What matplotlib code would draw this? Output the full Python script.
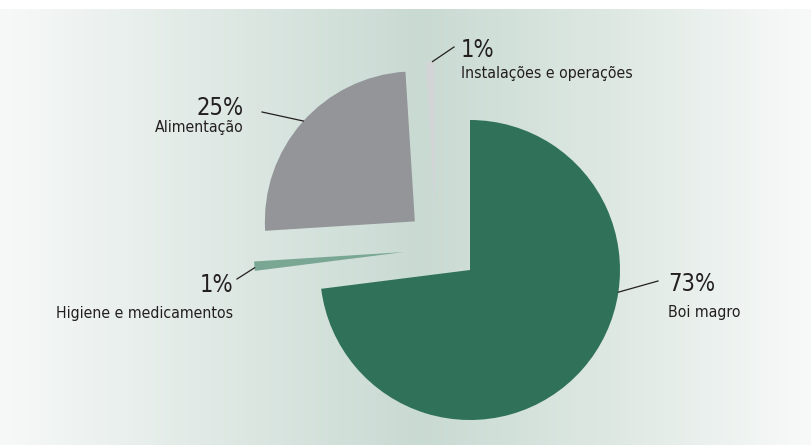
import matplotlib.pyplot as plt
import matplotlib.colors as mcolors
import numpy as np

plt.rcParams['font.family'] = ['DejaVu Sans']
plt.rcParams['font.stretch'] = 'condensed'

categories = ['Boi magro', 'Higiene e medicamentos', 'Alimentação', 'Instalações e operações']
shares = [73, 1, 25, 1]
pct_labels = ['73%', '1%', '25%', '1%']
colors = ['#2f7159', '#7aa794', '#939598', '#d2d4d6']
explode = [0, 0.43, 0.49, 0.39]

W, H = 811, 445
fig = plt.figure(figsize=(W / 100, H / 100), dpi=100)
ax = fig.add_axes([0, 0, 1, 1])

# background: horizontal gradient, white strip on top
stops = [(0, '#f7f9f8'), (200, '#e1eae6'), (420, '#c9dad3'), (610, '#dee8e3'), (811, '#f8faf9')]
xs = np.arange(W)
rgb = np.array([mcolors.to_rgb(c) for _, c in stops])
grad = np.stack([np.interp(xs, [p for p, _ in stops], rgb[:, k]) for k in range(3)], axis=-1)
ax.imshow(grad[None, :, :], extent=[0, W, 0, H - 9], aspect='auto', zorder=0)

cx, cy, r = 470, H - 270, 150
# matplotlib's explode is in data units, so scale by the radius
wedges, _ = ax.pie(shares, colors=colors, explode=[e * r for e in explode], startangle=90,
                   counterclock=False, center=(cx, cy), radius=r, frame=True,
                   wedgeprops=dict(linewidth=0))
# small hand nudges like in the original artwork
nudges = [(0, 0), (-2, 24), (0, 0), (-33, 0)]
for w, (dx, dy) in zip(wedges, nudges):
    w.set_center((w.center[0] + dx, w.center[1] + dy))
    w.set_zorder(2)

# label placement (pixel coords from top-left: x, pct baseline, name baseline)
label_pos = [(668, 291, 317, 'left'), (233, 292, 318, 'right'),
             (244, 115, 132, 'right'), (461, 57, 78, 'left')]
leader_ang = [-8.5, 186, 138, 91]
leader_end = [(658, 281), (237, 279), (262, 112), (454, 47)]

for w, pct, name, (lx, py1, py2, ha), ang, (ex, ey) in zip(wedges, pct_labels, categories,
                                                            label_pos, leader_ang, leader_end):
    px = w.center[0] + r * np.cos(np.radians(ang))
    py = w.center[1] + r * np.sin(np.radians(ang))
    ax.plot([px, ex], [py, H - ey], color='#231f20', lw=0.9, zorder=3)
    ax.text(lx, H - py1, pct, fontsize=17, ha=ha, va='baseline', color='#231f20')
    ax.text(lx, H - py2, name, fontsize=11.3, ha=ha, va='baseline', color='#231f20')

ax.set_xlim(0, W)
ax.set_ylim(0, H)
ax.set_aspect('auto')
ax.axis('off')
fig.savefig('out.png', dpi=100, facecolor='white')
